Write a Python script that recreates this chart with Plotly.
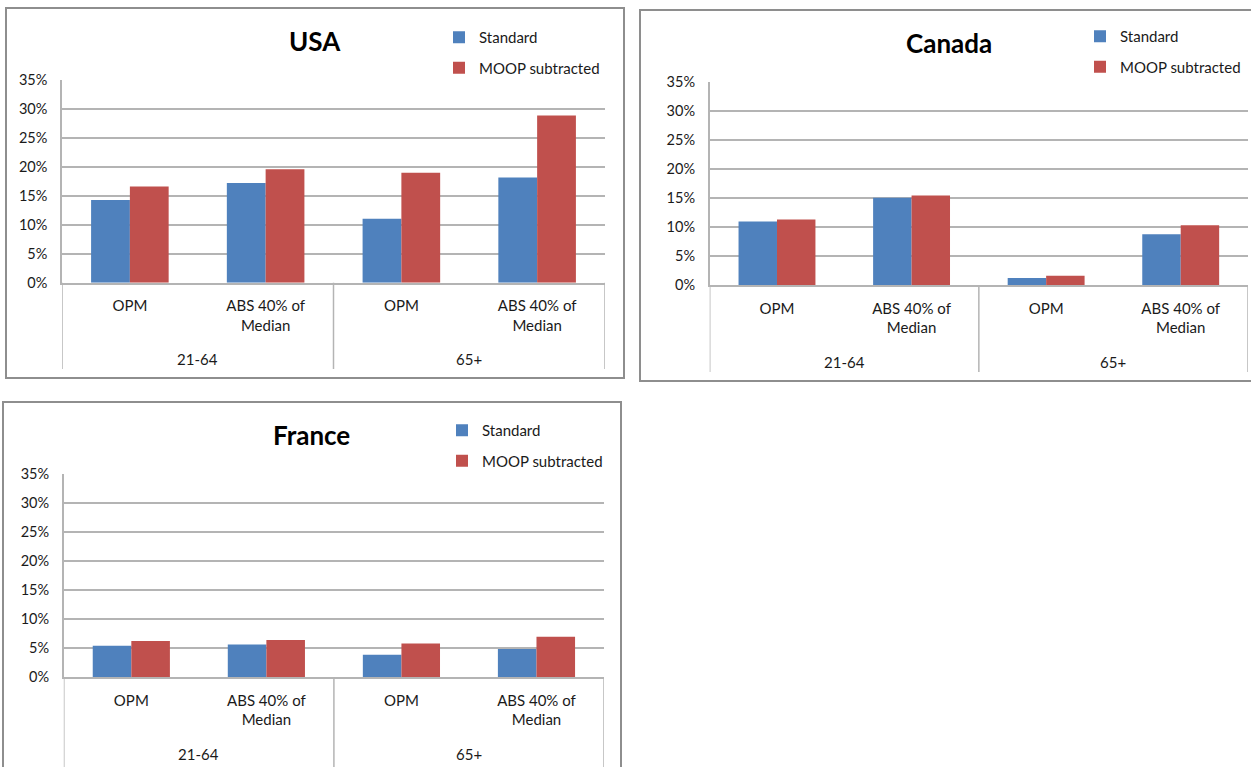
import plotly.graph_objects as go

# Category labels (inner level) and age-group labels (outer level)
categories = ["OPM", "ABS 40% of<br>Median", "OPM", "ABS 40% of<br>Median"]
age_groups = ["21-64", "65+"]
series_names = ["Standard", "MOOP subtracted"]

# Poverty rates (%) by country
usa_standard = [14.3, 17.2, 11.05, 18.15]
usa_moop = [16.6, 19.6, 19.0, 28.85]
canada_standard = [10.95, 15.05, 1.2, 8.75]
canada_moop = [11.3, 15.45, 1.6, 10.3]
france_standard = [5.4, 5.6, 3.85, 4.85]
france_moop = [6.2, 6.4, 5.8, 6.95]

W, H = 1251, 767
FONT = "Lato, 'Open Sans', sans-serif"
BLUE = "#4F81BD"
RED = "#C0504D"
GRID = "#B4B4B4"
FRAME = "#8E8E8E"


def px_x(v):
    return v / W


def px_y(v):
    return 1 - v / H


panels = [
    dict(name="USA", std=usa_standard, moop=usa_moop,
         xdom=(62, 605), y0=282.7, y35=80, title=(315, 41),
         legend=(439, 21), frame=(6, 8, 624, 378), div_bottom=369, group_y=359),
    dict(name="Canada", std=canada_standard, moop=canada_moop,
         xdom=(709.7, 1248), y0=285, y35=82.3, title=(949, 43),
         legend=(1080, 20), frame=(640, 10, 1262, 381), div_bottom=372, group_y=362),
    dict(name="France", std=france_standard, moop=france_moop,
         xdom=(63.8, 604), y0=677, y35=474.3, title=(311, 435),
         legend=(442, 414), frame=(3, 402, 621, 780), div_bottom=790, group_y=754),
]

fig = go.Figure()
layout = dict(
    width=W, height=H, autosize=False,
    margin=dict(l=0, r=0, t=0, b=0, pad=0, autoexpand=False),
    paper_bgcolor="white", plot_bgcolor="white",
    barmode="group", bargap=0.4286, bargroupgap=0,
    font=dict(family=FONT, size=15, color="#1a1a1a"),
    showlegend=True,
)
shapes = []
annotations = []

for i, p in enumerate(panels):
    sfx = "" if i == 0 else str(i + 1)
    xa, ya = "x" + sfx, "y" + sfx
    leg = "legend" + sfx
    xs = list(range(len(categories)))
    for name, vals, col in ((series_names[0], p["std"], BLUE),
                            (series_names[1], p["moop"], RED)):
        fig.add_trace(go.Bar(
            x=xs, y=vals, name=name, xaxis=xa, yaxis=ya,
            marker=dict(color=col, line=dict(width=0)),
            legend=leg, legendgroup=p["name"] + name,
        ))

    plot_h = p["y0"] - p["y35"]
    layout["xaxis" + sfx] = dict(
        domain=[px_x(p["xdom"][0]), px_x(p["xdom"][1])],
        anchor=ya, range=[-0.5, 3.5],
        tickvals=xs, ticktext=categories,
        tickfont=dict(family=FONT, size=15, color="#1a1a1a"),
        ticks="", ticklabelstandoff=9,
        showgrid=False, zeroline=False, automargin=False,
        showline=True, linecolor=GRID, linewidth=1.5,
        fixedrange=True,
    )
    layout["yaxis" + sfx] = dict(
        domain=[px_y(p["y0"]), px_y(p["y35"])],
        anchor=xa, range=[0, 35],
        tickmode="linear", tick0=0, dtick=5, ticksuffix="%",
        tickfont=dict(family=FONT, size=14.5, color="#1a1a1a"),
        ticks="", ticklabelstandoff=10,
        showgrid=True, gridcolor=GRID, gridwidth=1.5, automargin=False,
        zeroline=False, showline=True, linecolor=GRID, linewidth=1.5,
        fixedrange=True,
    )

    # Vertical dividers between the age groups, below the category axis
    depth = (p["div_bottom"] - p["y0"]) / plot_h
    for xv in (-0.5, 1.5, 3.5):
        shapes.append(dict(type="line", xref=xa, yref=ya + " domain",
                           x0=xv, x1=xv, y0=0, y1=-depth,
                           line=dict(color=GRID, width=1.5)))

    # Outer-level age-group labels
    gy = -(p["group_y"] - p["y0"]) / plot_h
    for gx, g in zip((0.5, 2.5), age_groups):
        annotations.append(dict(text=g, xref=xa, yref=ya + " domain",
                                x=gx, y=gy, showarrow=False,
                                xanchor="center", yanchor="middle",
                                font=dict(family=FONT, size=15, color="#1a1a1a")))

    # Panel title
    annotations.append(dict(text="<b>%s</b>" % p["name"], xref="paper", yref="paper",
                            x=px_x(p["title"][0]), y=px_y(p["title"][1]),
                            showarrow=False, xanchor="center", yanchor="middle",
                            font=dict(family=FONT, size=26, color="black")))

    # Panel frame
    fx0, fy0, fx1, fy1 = p["frame"]
    shapes.append(dict(type="rect", xref="paper", yref="paper",
                       x0=px_x(fx0), x1=px_x(fx1), y0=px_y(fy1), y1=px_y(fy0),
                       line=dict(color=FRAME, width=2), fillcolor="rgba(0,0,0,0)"))

    layout[leg] = dict(
        x=px_x(p["legend"][0]), y=px_y(p["legend"][1]),
        xanchor="left", yanchor="top",
        orientation="v", traceorder="grouped", tracegroupgap=8,
        bgcolor="rgba(0,0,0,0)", borderwidth=0,
        font=dict(family=FONT, size=15, color="#1a1a1a"),
        itemclick=False, itemdoubleclick=False,
    )

layout["shapes"] = shapes
layout["annotations"] = annotations
fig.update_layout(**layout)

fig.write_html("out.html")
